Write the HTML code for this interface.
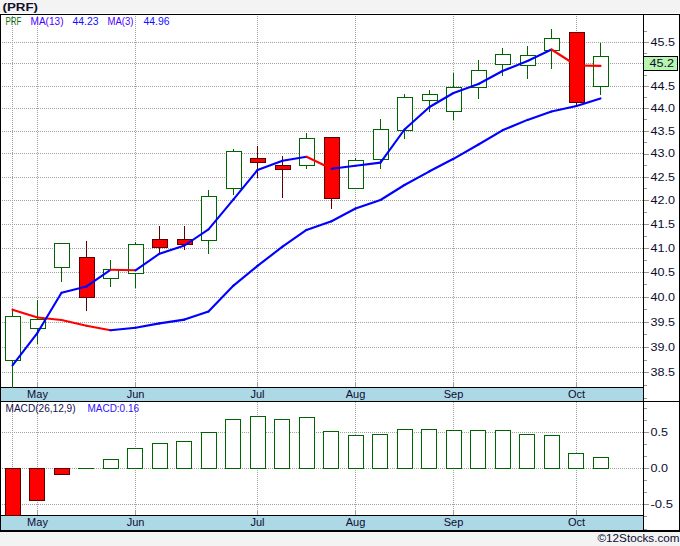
<!DOCTYPE html>
<html><head><meta charset="utf-8"><style>
html,body{margin:0;padding:0;}
body{width:680px;height:546px;position:relative;overflow:hidden;background:#f3f3f3;font-family:"Liberation Sans",sans-serif;}
</style></head><body>
<svg width="680" height="546" viewBox="0 0 680 546" style="position:absolute;left:0;top:0">
<rect x="0" y="0" width="680" height="546" fill="#f3f3f3"/>
<rect x="0" y="13" width="680" height="519" fill="#ffffff"/>
<g shape-rendering="crispEdges">
<rect x="0" y="388" width="643" height="13" fill="#add8e6"/>
<rect x="0" y="516" width="643" height="14" fill="#add8e6"/>
<line x1="0" y1="42.5" x2="643" y2="42.5" stroke="#a0a0a0" stroke-width="1" stroke-dasharray="1 1"/>
<line x1="0" y1="63.5" x2="643" y2="63.5" stroke="#a0a0a0" stroke-width="1" stroke-dasharray="1 1"/>
<line x1="0" y1="86.5" x2="643" y2="86.5" stroke="#a0a0a0" stroke-width="1" stroke-dasharray="1 1"/>
<line x1="0" y1="108.5" x2="643" y2="108.5" stroke="#a0a0a0" stroke-width="1" stroke-dasharray="1 1"/>
<line x1="0" y1="131.5" x2="643" y2="131.5" stroke="#a0a0a0" stroke-width="1" stroke-dasharray="1 1"/>
<line x1="0" y1="153.5" x2="643" y2="153.5" stroke="#a0a0a0" stroke-width="1" stroke-dasharray="1 1"/>
<line x1="0" y1="177.5" x2="643" y2="177.5" stroke="#a0a0a0" stroke-width="1" stroke-dasharray="1 1"/>
<line x1="0" y1="200.5" x2="643" y2="200.5" stroke="#a0a0a0" stroke-width="1" stroke-dasharray="1 1"/>
<line x1="0" y1="224.5" x2="643" y2="224.5" stroke="#a0a0a0" stroke-width="1" stroke-dasharray="1 1"/>
<line x1="0" y1="248.5" x2="643" y2="248.5" stroke="#a0a0a0" stroke-width="1" stroke-dasharray="1 1"/>
<line x1="0" y1="272.5" x2="643" y2="272.5" stroke="#a0a0a0" stroke-width="1" stroke-dasharray="1 1"/>
<line x1="0" y1="297.5" x2="643" y2="297.5" stroke="#a0a0a0" stroke-width="1" stroke-dasharray="1 1"/>
<line x1="0" y1="322.5" x2="643" y2="322.5" stroke="#a0a0a0" stroke-width="1" stroke-dasharray="1 1"/>
<line x1="0" y1="347.5" x2="643" y2="347.5" stroke="#a0a0a0" stroke-width="1" stroke-dasharray="1 1"/>
<line x1="0" y1="372.5" x2="643" y2="372.5" stroke="#a0a0a0" stroke-width="1" stroke-dasharray="1 1"/>
<line x1="0" y1="432.5" x2="643" y2="432.5" stroke="#a0a0a0" stroke-width="1" stroke-dasharray="1 1"/>
<line x1="0" y1="468.5" x2="643" y2="468.5" stroke="#a0a0a0" stroke-width="1" stroke-dasharray="1 1"/>
<line x1="0" y1="504.5" x2="643" y2="504.5" stroke="#a0a0a0" stroke-width="1" stroke-dasharray="1 1"/>
<line x1="12.5" y1="14" x2="12.5" y2="387" stroke="#a0a0a0" stroke-width="1" stroke-dasharray="1 1"/>
<line x1="12.5" y1="402" x2="12.5" y2="515" stroke="#a0a0a0" stroke-width="1" stroke-dasharray="1 1"/>
<line x1="37.5" y1="14" x2="37.5" y2="387" stroke="#a0a0a0" stroke-width="1" stroke-dasharray="1 1"/>
<line x1="37.5" y1="402" x2="37.5" y2="515" stroke="#a0a0a0" stroke-width="1" stroke-dasharray="1 1"/>
<rect x="37" y="382" width="1" height="5" fill="#a0a0a0"/>
<rect x="37" y="510" width="1" height="5" fill="#a0a0a0"/>
<line x1="135.5" y1="14" x2="135.5" y2="387" stroke="#a0a0a0" stroke-width="1" stroke-dasharray="1 1"/>
<line x1="135.5" y1="402" x2="135.5" y2="515" stroke="#a0a0a0" stroke-width="1" stroke-dasharray="1 1"/>
<rect x="135" y="382" width="1" height="5" fill="#a0a0a0"/>
<rect x="135" y="510" width="1" height="5" fill="#a0a0a0"/>
<line x1="257.5" y1="14" x2="257.5" y2="387" stroke="#a0a0a0" stroke-width="1" stroke-dasharray="1 1"/>
<line x1="257.5" y1="402" x2="257.5" y2="515" stroke="#a0a0a0" stroke-width="1" stroke-dasharray="1 1"/>
<rect x="257" y="382" width="1" height="5" fill="#a0a0a0"/>
<rect x="257" y="510" width="1" height="5" fill="#a0a0a0"/>
<line x1="355.5" y1="14" x2="355.5" y2="387" stroke="#a0a0a0" stroke-width="1" stroke-dasharray="1 1"/>
<line x1="355.5" y1="402" x2="355.5" y2="515" stroke="#a0a0a0" stroke-width="1" stroke-dasharray="1 1"/>
<rect x="355" y="382" width="1" height="5" fill="#a0a0a0"/>
<rect x="355" y="510" width="1" height="5" fill="#a0a0a0"/>
<line x1="453.5" y1="14" x2="453.5" y2="387" stroke="#a0a0a0" stroke-width="1" stroke-dasharray="1 1"/>
<line x1="453.5" y1="402" x2="453.5" y2="515" stroke="#a0a0a0" stroke-width="1" stroke-dasharray="1 1"/>
<rect x="453" y="382" width="1" height="5" fill="#a0a0a0"/>
<rect x="453" y="510" width="1" height="5" fill="#a0a0a0"/>
<line x1="576.5" y1="14" x2="576.5" y2="387" stroke="#a0a0a0" stroke-width="1" stroke-dasharray="1 1"/>
<line x1="576.5" y1="402" x2="576.5" y2="515" stroke="#a0a0a0" stroke-width="1" stroke-dasharray="1 1"/>
<rect x="576" y="382" width="1" height="5" fill="#a0a0a0"/>
<rect x="576" y="510" width="1" height="5" fill="#a0a0a0"/>
<rect x="0" y="14" width="680" height="1" fill="#000"/>
<rect x="0" y="14" width="1" height="518" fill="#000"/>
<rect x="679" y="14" width="1" height="518" fill="#000"/>
<rect x="643" y="14" width="1" height="518" fill="#000"/>
<rect x="0" y="387" width="643" height="1" fill="#000"/>
<rect x="0" y="401" width="680" height="1" fill="#000"/>
<rect x="0" y="515" width="643" height="1" fill="#000"/>
<rect x="0" y="530" width="680" height="2" fill="#000"/>
<rect x="644" y="398" width="3" height="1" fill="#999999"/>
<rect x="644" y="385" width="3" height="1" fill="#999999"/>
<rect x="644" y="372" width="5" height="1" fill="#999999"/>
<rect x="644" y="360" width="3" height="1" fill="#999999"/>
<rect x="644" y="347" width="5" height="1" fill="#999999"/>
<rect x="644" y="334" width="3" height="1" fill="#999999"/>
<rect x="644" y="322" width="5" height="1" fill="#999999"/>
<rect x="644" y="309" width="3" height="1" fill="#999999"/>
<rect x="644" y="297" width="5" height="1" fill="#999999"/>
<rect x="644" y="284" width="3" height="1" fill="#999999"/>
<rect x="644" y="272" width="5" height="1" fill="#999999"/>
<rect x="644" y="260" width="3" height="1" fill="#999999"/>
<rect x="644" y="248" width="5" height="1" fill="#999999"/>
<rect x="644" y="236" width="3" height="1" fill="#999999"/>
<rect x="644" y="224" width="5" height="1" fill="#999999"/>
<rect x="644" y="212" width="3" height="1" fill="#999999"/>
<rect x="644" y="200" width="5" height="1" fill="#999999"/>
<rect x="644" y="188" width="3" height="1" fill="#999999"/>
<rect x="644" y="177" width="5" height="1" fill="#999999"/>
<rect x="644" y="165" width="3" height="1" fill="#999999"/>
<rect x="644" y="154" width="5" height="1" fill="#999999"/>
<rect x="644" y="142" width="3" height="1" fill="#999999"/>
<rect x="644" y="131" width="5" height="1" fill="#999999"/>
<rect x="644" y="119" width="3" height="1" fill="#999999"/>
<rect x="644" y="108" width="5" height="1" fill="#999999"/>
<rect x="644" y="97" width="3" height="1" fill="#999999"/>
<rect x="644" y="86" width="5" height="1" fill="#999999"/>
<rect x="644" y="75" width="3" height="1" fill="#999999"/>
<rect x="644" y="64" width="5" height="1" fill="#999999"/>
<rect x="644" y="53" width="3" height="1" fill="#999999"/>
<rect x="644" y="42" width="5" height="1" fill="#999999"/>
<rect x="644" y="31" width="3" height="1" fill="#999999"/>
<rect x="644" y="408" width="3" height="1" fill="#999999"/>
<rect x="644" y="420" width="3" height="1" fill="#999999"/>
<rect x="644" y="432" width="5" height="1" fill="#999999"/>
<rect x="644" y="444" width="3" height="1" fill="#999999"/>
<rect x="644" y="456" width="3" height="1" fill="#999999"/>
<rect x="644" y="468" width="5" height="1" fill="#999999"/>
<rect x="644" y="480" width="3" height="1" fill="#999999"/>
<rect x="644" y="492" width="3" height="1" fill="#999999"/>
<rect x="644" y="504" width="5" height="1" fill="#999999"/>
<rect x="644" y="516" width="3" height="1" fill="#999999"/>
<rect x="644" y="529" width="3" height="1" fill="#999999"/>
<rect x="12" y="360" width="1" height="28" fill="#006400"/>
<rect x="12" y="310" width="1" height="6" fill="#006400"/>
<rect x="5" y="316" width="16" height="45" fill="#006400"/>
<rect x="6" y="317" width="14" height="43" fill="#ffffff"/>
<rect x="37" y="328" width="1" height="16" fill="#006400"/>
<rect x="37" y="300" width="1" height="19" fill="#006400"/>
<rect x="30" y="319" width="16" height="10" fill="#006400"/>
<rect x="31" y="320" width="14" height="8" fill="#ffffff"/>
<rect x="61" y="267" width="1" height="15" fill="#006400"/>
<rect x="54" y="243" width="16" height="25" fill="#006400"/>
<rect x="55" y="244" width="14" height="23" fill="#ffffff"/>
<rect x="86" y="297" width="1" height="14" fill="#5a0000"/>
<rect x="86" y="241" width="1" height="16" fill="#5a0000"/>
<rect x="79" y="257" width="16" height="41" fill="#5a0000"/>
<rect x="80" y="258" width="14" height="39" fill="#ff0000"/>
<rect x="110" y="278" width="1" height="9" fill="#006400"/>
<rect x="110" y="260" width="1" height="9" fill="#006400"/>
<rect x="103" y="269" width="16" height="10" fill="#006400"/>
<rect x="104" y="270" width="14" height="8" fill="#ffffff"/>
<rect x="135" y="273" width="1" height="15" fill="#006400"/>
<rect x="135" y="242" width="1" height="2" fill="#006400"/>
<rect x="128" y="244" width="16" height="30" fill="#006400"/>
<rect x="129" y="245" width="14" height="28" fill="#ffffff"/>
<rect x="159" y="247" width="1" height="6" fill="#5a0000"/>
<rect x="159" y="226" width="1" height="13" fill="#5a0000"/>
<rect x="152" y="239" width="16" height="9" fill="#5a0000"/>
<rect x="153" y="240" width="14" height="7" fill="#ff0000"/>
<rect x="184" y="244" width="1" height="6" fill="#5a0000"/>
<rect x="184" y="226" width="1" height="13" fill="#5a0000"/>
<rect x="177" y="239" width="16" height="6" fill="#5a0000"/>
<rect x="178" y="240" width="14" height="4" fill="#ff0000"/>
<rect x="208" y="240" width="1" height="14" fill="#006400"/>
<rect x="208" y="190" width="1" height="6" fill="#006400"/>
<rect x="201" y="196" width="16" height="45" fill="#006400"/>
<rect x="202" y="197" width="14" height="43" fill="#ffffff"/>
<rect x="233" y="188" width="1" height="7" fill="#006400"/>
<rect x="233" y="149" width="1" height="2" fill="#006400"/>
<rect x="226" y="151" width="16" height="38" fill="#006400"/>
<rect x="227" y="152" width="14" height="36" fill="#ffffff"/>
<rect x="257" y="162" width="1" height="16" fill="#5a0000"/>
<rect x="257" y="146" width="1" height="12" fill="#5a0000"/>
<rect x="250" y="158" width="16" height="5" fill="#5a0000"/>
<rect x="251" y="159" width="14" height="3" fill="#ff0000"/>
<rect x="282" y="169" width="1" height="29" fill="#5a0000"/>
<rect x="282" y="156" width="1" height="9" fill="#5a0000"/>
<rect x="275" y="165" width="16" height="5" fill="#5a0000"/>
<rect x="276" y="166" width="14" height="3" fill="#ff0000"/>
<rect x="306" y="165" width="1" height="4" fill="#006400"/>
<rect x="306" y="133" width="1" height="5" fill="#006400"/>
<rect x="299" y="138" width="16" height="28" fill="#006400"/>
<rect x="300" y="139" width="14" height="26" fill="#ffffff"/>
<rect x="331" y="198" width="1" height="11" fill="#5a0000"/>
<rect x="324" y="137" width="16" height="62" fill="#5a0000"/>
<rect x="325" y="138" width="14" height="60" fill="#ff0000"/>
<rect x="355" y="158" width="1" height="2" fill="#006400"/>
<rect x="348" y="160" width="16" height="29" fill="#006400"/>
<rect x="349" y="161" width="14" height="27" fill="#ffffff"/>
<rect x="380" y="159" width="1" height="10" fill="#006400"/>
<rect x="380" y="119" width="1" height="10" fill="#006400"/>
<rect x="373" y="129" width="16" height="31" fill="#006400"/>
<rect x="374" y="130" width="14" height="29" fill="#ffffff"/>
<rect x="404" y="130" width="1" height="9" fill="#006400"/>
<rect x="404" y="94" width="1" height="3" fill="#006400"/>
<rect x="397" y="97" width="16" height="34" fill="#006400"/>
<rect x="398" y="98" width="14" height="32" fill="#ffffff"/>
<rect x="429" y="100" width="1" height="12" fill="#006400"/>
<rect x="429" y="90" width="1" height="4" fill="#006400"/>
<rect x="422" y="94" width="16" height="7" fill="#006400"/>
<rect x="423" y="95" width="14" height="5" fill="#ffffff"/>
<rect x="453" y="111" width="1" height="9" fill="#006400"/>
<rect x="453" y="73" width="1" height="14" fill="#006400"/>
<rect x="446" y="87" width="16" height="25" fill="#006400"/>
<rect x="447" y="88" width="14" height="23" fill="#ffffff"/>
<rect x="478" y="87" width="1" height="12" fill="#006400"/>
<rect x="478" y="60" width="1" height="10" fill="#006400"/>
<rect x="471" y="70" width="16" height="18" fill="#006400"/>
<rect x="472" y="71" width="14" height="16" fill="#ffffff"/>
<rect x="502" y="64" width="1" height="12" fill="#006400"/>
<rect x="502" y="48" width="1" height="6" fill="#006400"/>
<rect x="495" y="54" width="16" height="11" fill="#006400"/>
<rect x="496" y="55" width="14" height="9" fill="#ffffff"/>
<rect x="527" y="65" width="1" height="14" fill="#006400"/>
<rect x="527" y="46" width="1" height="9" fill="#006400"/>
<rect x="520" y="55" width="16" height="11" fill="#006400"/>
<rect x="521" y="56" width="14" height="9" fill="#ffffff"/>
<rect x="551" y="50" width="1" height="19" fill="#006400"/>
<rect x="551" y="29" width="1" height="9" fill="#006400"/>
<rect x="544" y="38" width="16" height="13" fill="#006400"/>
<rect x="545" y="39" width="14" height="11" fill="#ffffff"/>
<rect x="576" y="102" width="1" height="3" fill="#5a0000"/>
<rect x="569" y="32" width="16" height="71" fill="#5a0000"/>
<rect x="570" y="33" width="14" height="69" fill="#ff0000"/>
<rect x="600" y="86" width="1" height="9" fill="#006400"/>
<rect x="600" y="43" width="1" height="13" fill="#006400"/>
<rect x="593" y="56" width="16" height="31" fill="#006400"/>
<rect x="594" y="57" width="14" height="29" fill="#ffffff"/>
<rect x="5" y="468" width="16" height="48" fill="#5a0000"/>
<rect x="6" y="469" width="14" height="46" fill="#ff0000"/>
<rect x="29" y="468" width="16" height="33" fill="#5a0000"/>
<rect x="30" y="469" width="14" height="31" fill="#ff0000"/>
<rect x="54" y="468" width="16" height="7" fill="#5a0000"/>
<rect x="55" y="469" width="14" height="5" fill="#ff0000"/>
<rect x="78" y="468" width="16" height="1" fill="#006400"/>
<rect x="103" y="459" width="16" height="10" fill="#006400"/>
<rect x="104" y="460" width="14" height="8" fill="#ffffff"/>
<rect x="127" y="448" width="16" height="21" fill="#006400"/>
<rect x="128" y="449" width="14" height="19" fill="#ffffff"/>
<rect x="152" y="443" width="16" height="26" fill="#006400"/>
<rect x="153" y="444" width="14" height="24" fill="#ffffff"/>
<rect x="176" y="441" width="16" height="28" fill="#006400"/>
<rect x="177" y="442" width="14" height="26" fill="#ffffff"/>
<rect x="201" y="432" width="16" height="37" fill="#006400"/>
<rect x="202" y="433" width="14" height="35" fill="#ffffff"/>
<rect x="225" y="419" width="16" height="50" fill="#006400"/>
<rect x="226" y="420" width="14" height="48" fill="#ffffff"/>
<rect x="250" y="416" width="16" height="53" fill="#006400"/>
<rect x="251" y="417" width="14" height="51" fill="#ffffff"/>
<rect x="274" y="419" width="16" height="50" fill="#006400"/>
<rect x="275" y="420" width="14" height="48" fill="#ffffff"/>
<rect x="299" y="417" width="16" height="52" fill="#006400"/>
<rect x="300" y="418" width="14" height="50" fill="#ffffff"/>
<rect x="323" y="431" width="16" height="38" fill="#006400"/>
<rect x="324" y="432" width="14" height="36" fill="#ffffff"/>
<rect x="348" y="435" width="16" height="34" fill="#006400"/>
<rect x="349" y="436" width="14" height="32" fill="#ffffff"/>
<rect x="372" y="434" width="16" height="35" fill="#006400"/>
<rect x="373" y="435" width="14" height="33" fill="#ffffff"/>
<rect x="397" y="429" width="16" height="40" fill="#006400"/>
<rect x="398" y="430" width="14" height="38" fill="#ffffff"/>
<rect x="421" y="429" width="16" height="40" fill="#006400"/>
<rect x="422" y="430" width="14" height="38" fill="#ffffff"/>
<rect x="446" y="430" width="16" height="39" fill="#006400"/>
<rect x="447" y="431" width="14" height="37" fill="#ffffff"/>
<rect x="470" y="430" width="16" height="39" fill="#006400"/>
<rect x="471" y="431" width="14" height="37" fill="#ffffff"/>
<rect x="495" y="430" width="16" height="39" fill="#006400"/>
<rect x="496" y="431" width="14" height="37" fill="#ffffff"/>
<rect x="519" y="434" width="16" height="35" fill="#006400"/>
<rect x="520" y="435" width="14" height="33" fill="#ffffff"/>
<rect x="544" y="435" width="16" height="34" fill="#006400"/>
<rect x="545" y="436" width="14" height="32" fill="#ffffff"/>
<rect x="568" y="453" width="16" height="16" fill="#006400"/>
<rect x="569" y="454" width="14" height="14" fill="#ffffff"/>
<rect x="593" y="457" width="16" height="12" fill="#006400"/>
<rect x="594" y="458" width="14" height="10" fill="#ffffff"/>
</g>
<clipPath id="pc"><rect x="1" y="15" width="642" height="372"/></clipPath>
<g clip-path="url(#pc)" fill="none" stroke-width="2.1" stroke-linejoin="round" stroke-linecap="butt">
<line x1="12.5" y1="309.7" x2="37.5" y2="317.5" stroke="#ff0000" stroke-linecap="round"/>
<line x1="37.5" y1="317.5" x2="61.5" y2="320" stroke="#ff0000" stroke-linecap="round"/>
<line x1="61.5" y1="320" x2="86.5" y2="325.8" stroke="#ff0000" stroke-linecap="round"/>
<line x1="86.5" y1="325.8" x2="110.5" y2="330.3" stroke="#ff0000" stroke-linecap="round"/>
<line x1="110.5" y1="330.3" x2="135.5" y2="327.8" stroke="#0000ff" stroke-linecap="round"/>
<line x1="135.5" y1="327.8" x2="159.5" y2="323.4" stroke="#0000ff" stroke-linecap="round"/>
<line x1="159.5" y1="323.4" x2="184.5" y2="319.6" stroke="#0000ff" stroke-linecap="round"/>
<line x1="184.5" y1="319.6" x2="208.5" y2="311.5" stroke="#0000ff" stroke-linecap="round"/>
<line x1="208.5" y1="311.5" x2="233.5" y2="285.6" stroke="#0000ff" stroke-linecap="round"/>
<line x1="233.5" y1="285.6" x2="257.5" y2="265.9" stroke="#0000ff" stroke-linecap="round"/>
<line x1="257.5" y1="265.9" x2="282.5" y2="246.7" stroke="#0000ff" stroke-linecap="round"/>
<line x1="282.5" y1="246.7" x2="306.5" y2="229.9" stroke="#0000ff" stroke-linecap="round"/>
<line x1="306.5" y1="229.9" x2="331.5" y2="221.3" stroke="#0000ff" stroke-linecap="round"/>
<line x1="331.5" y1="221.3" x2="355.5" y2="208.5" stroke="#0000ff" stroke-linecap="round"/>
<line x1="355.5" y1="208.5" x2="380.5" y2="200" stroke="#0000ff" stroke-linecap="round"/>
<line x1="380.5" y1="200" x2="404.5" y2="185" stroke="#0000ff" stroke-linecap="round"/>
<line x1="404.5" y1="185" x2="429.5" y2="171.3" stroke="#0000ff" stroke-linecap="round"/>
<line x1="429.5" y1="171.3" x2="453.5" y2="158.8" stroke="#0000ff" stroke-linecap="round"/>
<line x1="453.5" y1="158.8" x2="478.5" y2="144.5" stroke="#0000ff" stroke-linecap="round"/>
<line x1="478.5" y1="144.5" x2="502.5" y2="130.3" stroke="#0000ff" stroke-linecap="round"/>
<line x1="502.5" y1="130.3" x2="527.5" y2="119.9" stroke="#0000ff" stroke-linecap="round"/>
<line x1="527.5" y1="119.9" x2="551.5" y2="111.5" stroke="#0000ff" stroke-linecap="round"/>
<line x1="551.5" y1="111.5" x2="576.5" y2="106" stroke="#0000ff" stroke-linecap="round"/>
<line x1="576.5" y1="106" x2="600.5" y2="98.4" stroke="#0000ff" stroke-linecap="round"/>
<line x1="12.5" y1="365.4" x2="37.5" y2="332.8" stroke="#0000ff" stroke-linecap="round"/>
<line x1="37.5" y1="332.8" x2="61.5" y2="292.8" stroke="#0000ff" stroke-linecap="round"/>
<line x1="61.5" y1="292.8" x2="86.5" y2="286.4" stroke="#0000ff" stroke-linecap="round"/>
<line x1="86.5" y1="286.4" x2="110.5" y2="269.8" stroke="#0000ff" stroke-linecap="round"/>
<line x1="110.5" y1="269.8" x2="135.5" y2="270.3" stroke="#ff0000" stroke-linecap="round"/>
<line x1="135.5" y1="270.3" x2="159.5" y2="253.7" stroke="#0000ff" stroke-linecap="round"/>
<line x1="159.5" y1="253.7" x2="184.5" y2="245.5" stroke="#0000ff" stroke-linecap="round"/>
<line x1="184.5" y1="245.5" x2="208.5" y2="229.3" stroke="#0000ff" stroke-linecap="round"/>
<line x1="208.5" y1="229.3" x2="233.5" y2="199.3" stroke="#0000ff" stroke-linecap="round"/>
<line x1="233.5" y1="199.3" x2="257.5" y2="170" stroke="#0000ff" stroke-linecap="round"/>
<line x1="257.5" y1="170" x2="282.5" y2="160.7" stroke="#0000ff" stroke-linecap="round"/>
<line x1="282.5" y1="160.7" x2="306.5" y2="156.8" stroke="#0000ff" stroke-linecap="round"/>
<line x1="306.5" y1="156.8" x2="331.5" y2="168.7" stroke="#ff0000" stroke-linecap="round"/>
<line x1="331.5" y1="168.7" x2="355.5" y2="165.7" stroke="#0000ff" stroke-linecap="round"/>
<line x1="355.5" y1="165.7" x2="380.5" y2="162.6" stroke="#0000ff" stroke-linecap="round"/>
<line x1="380.5" y1="162.6" x2="404.5" y2="129.5" stroke="#0000ff" stroke-linecap="round"/>
<line x1="404.5" y1="129.5" x2="429.5" y2="107" stroke="#0000ff" stroke-linecap="round"/>
<line x1="429.5" y1="107" x2="453.5" y2="93" stroke="#0000ff" stroke-linecap="round"/>
<line x1="453.5" y1="93" x2="478.5" y2="84" stroke="#0000ff" stroke-linecap="round"/>
<line x1="478.5" y1="84" x2="502.5" y2="71" stroke="#0000ff" stroke-linecap="round"/>
<line x1="502.5" y1="71" x2="527.5" y2="61" stroke="#0000ff" stroke-linecap="round"/>
<line x1="527.5" y1="61" x2="551.5" y2="49.5" stroke="#0000ff" stroke-linecap="round"/>
<line x1="551.5" y1="49.5" x2="576.5" y2="65.5" stroke="#ff0000" stroke-linecap="round"/>
<line x1="576.5" y1="65.5" x2="600.5" y2="65.9" stroke="#ff0000" stroke-linecap="round"/>
</g>
<g shape-rendering="crispEdges">
<rect x="643" y="56" width="35" height="15" fill="#000"/>
<rect x="644" y="57" width="33" height="13" fill="#b8f5b0"/>
</g>
<g font-family="Liberation Sans, sans-serif"><text x="2.5" y="11" font-size="11.2" fill="#10102a" stroke="#10102a" stroke-width="0" font-weight="bold" text-anchor="start" textLength="35.5" lengthAdjust="spacingAndGlyphs">(PRF)</text>
<text x="5.5" y="25" font-size="10" fill="#0a6a0a" stroke="#0a6a0a" stroke-width="0" font-weight="normal" text-anchor="start" textLength="16" lengthAdjust="spacingAndGlyphs">PRF</text>
<text x="30.5" y="25" font-size="10" fill="#4a00ff" stroke="#4a00ff" stroke-width="0" font-weight="normal" text-anchor="start" textLength="33" lengthAdjust="spacingAndGlyphs">MA(13)</text>
<text x="72.5" y="25" font-size="10" fill="#1010ff" stroke="#1010ff" stroke-width="0" font-weight="normal" text-anchor="start" textLength="26" lengthAdjust="spacingAndGlyphs">44.23</text>
<text x="107.5" y="25" font-size="10" fill="#4a00ff" stroke="#4a00ff" stroke-width="0" font-weight="normal" text-anchor="start" textLength="26" lengthAdjust="spacingAndGlyphs">MA(3)</text>
<text x="143.5" y="25" font-size="10" fill="#1010ff" stroke="#1010ff" stroke-width="0" font-weight="normal" text-anchor="start" textLength="26" lengthAdjust="spacingAndGlyphs">44.96</text>
<text x="650.5" y="45.5" font-size="11" fill="#0c0c30" stroke="#0c0c30" stroke-width="0" font-weight="normal" text-anchor="start" textLength="24.5" lengthAdjust="spacingAndGlyphs">45.5</text>
<text x="650.5" y="89.5" font-size="11" fill="#0c0c30" stroke="#0c0c30" stroke-width="0" font-weight="normal" text-anchor="start" textLength="24.5" lengthAdjust="spacingAndGlyphs">44.5</text>
<text x="650.5" y="111.5" font-size="11" fill="#0c0c30" stroke="#0c0c30" stroke-width="0" font-weight="normal" text-anchor="start" textLength="24.5" lengthAdjust="spacingAndGlyphs">44.0</text>
<text x="650.5" y="134.5" font-size="11" fill="#0c0c30" stroke="#0c0c30" stroke-width="0" font-weight="normal" text-anchor="start" textLength="24.5" lengthAdjust="spacingAndGlyphs">43.5</text>
<text x="650.5" y="156.5" font-size="11" fill="#0c0c30" stroke="#0c0c30" stroke-width="0" font-weight="normal" text-anchor="start" textLength="24.5" lengthAdjust="spacingAndGlyphs">43.0</text>
<text x="650.5" y="180.5" font-size="11" fill="#0c0c30" stroke="#0c0c30" stroke-width="0" font-weight="normal" text-anchor="start" textLength="24.5" lengthAdjust="spacingAndGlyphs">42.5</text>
<text x="650.5" y="203.5" font-size="11" fill="#0c0c30" stroke="#0c0c30" stroke-width="0" font-weight="normal" text-anchor="start" textLength="24.5" lengthAdjust="spacingAndGlyphs">42.0</text>
<text x="650.5" y="227.5" font-size="11" fill="#0c0c30" stroke="#0c0c30" stroke-width="0" font-weight="normal" text-anchor="start" textLength="24.5" lengthAdjust="spacingAndGlyphs">41.5</text>
<text x="650.5" y="251.5" font-size="11" fill="#0c0c30" stroke="#0c0c30" stroke-width="0" font-weight="normal" text-anchor="start" textLength="24.5" lengthAdjust="spacingAndGlyphs">41.0</text>
<text x="650.5" y="275.5" font-size="11" fill="#0c0c30" stroke="#0c0c30" stroke-width="0" font-weight="normal" text-anchor="start" textLength="24.5" lengthAdjust="spacingAndGlyphs">40.5</text>
<text x="650.5" y="300.5" font-size="11" fill="#0c0c30" stroke="#0c0c30" stroke-width="0" font-weight="normal" text-anchor="start" textLength="24.5" lengthAdjust="spacingAndGlyphs">40.0</text>
<text x="650.5" y="325.5" font-size="11" fill="#0c0c30" stroke="#0c0c30" stroke-width="0" font-weight="normal" text-anchor="start" textLength="24.5" lengthAdjust="spacingAndGlyphs">39.5</text>
<text x="650.5" y="350.5" font-size="11" fill="#0c0c30" stroke="#0c0c30" stroke-width="0" font-weight="normal" text-anchor="start" textLength="24.5" lengthAdjust="spacingAndGlyphs">39.0</text>
<text x="650.5" y="375.5" font-size="11" fill="#0c0c30" stroke="#0c0c30" stroke-width="0" font-weight="normal" text-anchor="start" textLength="24.5" lengthAdjust="spacingAndGlyphs">38.5</text>
<text x="649.5" y="67" font-size="11" fill="#0c0c30" stroke="#0c0c30" stroke-width="0" font-weight="normal" text-anchor="start" textLength="24.5" lengthAdjust="spacingAndGlyphs">45.2</text>
<text x="37.5" y="398" font-size="11" fill="#0c0c30" stroke="#0c0c30" stroke-width="0" font-weight="normal" text-anchor="middle">May</text>
<text x="37.5" y="526" font-size="11" fill="#0c0c30" stroke="#0c0c30" stroke-width="0" font-weight="normal" text-anchor="middle">May</text>
<text x="135.5" y="398" font-size="11" fill="#0c0c30" stroke="#0c0c30" stroke-width="0" font-weight="normal" text-anchor="middle">Jun</text>
<text x="135.5" y="526" font-size="11" fill="#0c0c30" stroke="#0c0c30" stroke-width="0" font-weight="normal" text-anchor="middle">Jun</text>
<text x="257.5" y="398" font-size="11" fill="#0c0c30" stroke="#0c0c30" stroke-width="0" font-weight="normal" text-anchor="middle">Jul</text>
<text x="257.5" y="526" font-size="11" fill="#0c0c30" stroke="#0c0c30" stroke-width="0" font-weight="normal" text-anchor="middle">Jul</text>
<text x="355.5" y="398" font-size="11" fill="#0c0c30" stroke="#0c0c30" stroke-width="0" font-weight="normal" text-anchor="middle">Aug</text>
<text x="355.5" y="526" font-size="11" fill="#0c0c30" stroke="#0c0c30" stroke-width="0" font-weight="normal" text-anchor="middle">Aug</text>
<text x="453.5" y="398" font-size="11" fill="#0c0c30" stroke="#0c0c30" stroke-width="0" font-weight="normal" text-anchor="middle">Sep</text>
<text x="453.5" y="526" font-size="11" fill="#0c0c30" stroke="#0c0c30" stroke-width="0" font-weight="normal" text-anchor="middle">Sep</text>
<text x="576.5" y="398" font-size="11" fill="#0c0c30" stroke="#0c0c30" stroke-width="0" font-weight="normal" text-anchor="middle">Oct</text>
<text x="576.5" y="526" font-size="11" fill="#0c0c30" stroke="#0c0c30" stroke-width="0" font-weight="normal" text-anchor="middle">Oct</text>
<text x="5.5" y="412" font-size="10" fill="#14104a" stroke="#14104a" stroke-width="0" font-weight="normal" text-anchor="start" textLength="70" lengthAdjust="spacingAndGlyphs">MACD(26,12,9)</text>
<text x="87.5" y="412" font-size="10" fill="#3010ff" stroke="#3010ff" stroke-width="0" font-weight="normal" text-anchor="start" textLength="51.5" lengthAdjust="spacingAndGlyphs">MACD:0.16</text>
<text x="650.5" y="436" font-size="11" fill="#0c0c30" stroke="#0c0c30" stroke-width="0" font-weight="normal" text-anchor="start" textLength="17.5" lengthAdjust="spacingAndGlyphs">0.5</text>
<text x="650.5" y="472" font-size="11" fill="#0c0c30" stroke="#0c0c30" stroke-width="0" font-weight="normal" text-anchor="start" textLength="17.5" lengthAdjust="spacingAndGlyphs">0.0</text>
<text x="650.5" y="508" font-size="11" fill="#0c0c30" stroke="#0c0c30" stroke-width="0" font-weight="normal" text-anchor="start" textLength="22.5" lengthAdjust="spacingAndGlyphs">-0.5</text>
<text x="597.5" y="542" font-size="11" fill="#0c0c30" stroke="#0c0c30" stroke-width="0" font-weight="normal" text-anchor="start" textLength="82" lengthAdjust="spacingAndGlyphs">©12Stocks.com</text></g></svg>

</body></html>
